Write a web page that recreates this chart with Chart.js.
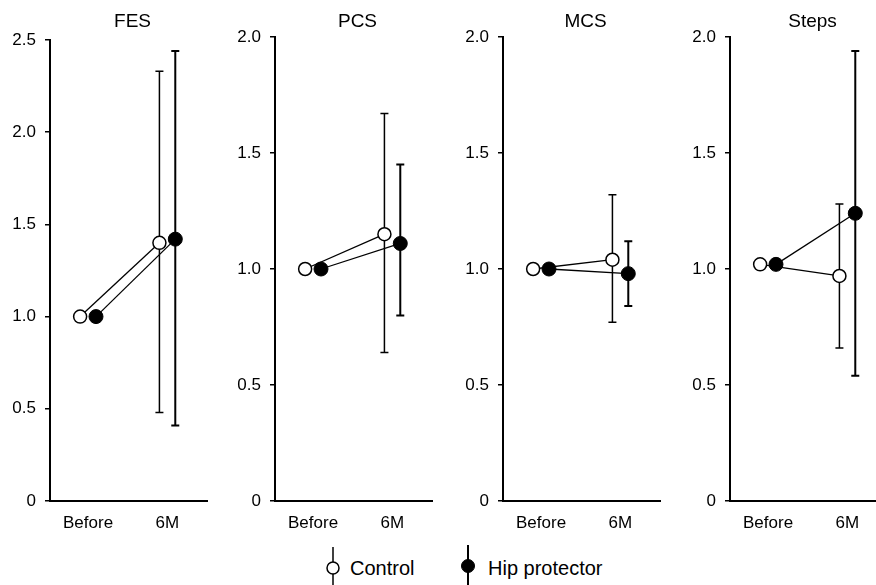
<!DOCTYPE html>
<html>
<head>
<meta charset="utf-8">
<script src="https://cdn.jsdelivr.net/npm/chart.js@4.4.1/dist/chart.umd.min.js"></script>
<style>
  html, body { margin: 0; padding: 0; background: #fff; overflow: hidden; }
  body { width: 876px; height: 585px; position: relative; font-family: "Liberation Sans", Arial, sans-serif; }
  canvas.panel { position: absolute; top: 0; }
  .legend { position: absolute; top: 0; left: 0; width: 876px; }
  .legend svg { position: absolute; }
  .legend span { position: absolute; top: 556px; font-size: 20px; line-height: 24px; color: #000; white-space: nowrap; }
</style>
</head>
<body>
<canvas class="panel" id="p0" width="215" height="541"></canvas>
<canvas class="panel" id="p1" width="215" height="541"></canvas>
<canvas class="panel" id="p2" width="215" height="541"></canvas>
<canvas class="panel" id="p3" width="215" height="541"></canvas>

<div class="legend">
  <svg style="left:325px;top:547px" width="16" height="40">
    <line x1="8" y1="0" x2="8" y2="40" stroke="#000" stroke-width="1.5"/>
    <circle cx="8" cy="21" r="6" fill="#fff" stroke="#000" stroke-width="1.5"/>
  </svg>
  <span style="left:350px">Control</span>
  <svg style="left:460px;top:545px" width="16" height="40">
    <line x1="8" y1="0" x2="8" y2="40" stroke="#000" stroke-width="2"/>
    <circle cx="8" cy="21" r="6.5" fill="#000" stroke="#000" stroke-width="1"/>
  </svg>
  <span style="left:488px">Hip protector</span>
</div>

<script>
// 패널과 시점
const panels = ['FES', 'PCS', 'MCS', 'Steps'];
const timepoints = ['Before', '6M'];

// 대조군 (평균, 오차 하한/상한)
const controlMean = [[1.00, 1.40], [1.00, 1.15], [1.00, 1.04], [1.02, 0.97]];
const controlLow  = [[null, 0.48], [null, 0.64], [null, 0.77], [null, 0.66]];
const controlHigh = [[null, 2.33], [null, 1.67], [null, 1.32], [null, 1.28]];

// 고관절 보호대군
const hipMean = [[1.00, 1.42], [1.00, 1.11], [1.00, 0.98], [1.02, 1.24]];
const hipLow  = [[null, 0.41], [null, 0.80], [null, 0.84], [null, 0.54]];
const hipHigh = [[null, 2.44], [null, 1.45], [null, 1.12], [null, 1.94]];

// y축 눈금
const yTicks = [
    [0, 0.5, 1.0, 1.5, 2.0, 2.5],
    [0, 0.5, 1.0, 1.5, 2.0],
    [0, 0.5, 1.0, 1.5, 2.0],
    [0, 0.5, 1.0, 1.5, 2.0]
];

// 패널 배치
const axisX = [50, 275, 503, 730];
const plotTop = [40, 37, 37, 37];
const dodge = 0.1;

const font = { family: '"Liberation Sans", Arial, sans-serif', size: 17 };

// 오차 막대
const errorBars = {
    id: 'errorBars',
    beforeDatasetsDraw(chart) {
        const { ctx } = chart;
        const y = chart.scales.y;
        chart.data.datasets.forEach((ds, di) => {
            const meta = chart.getDatasetMeta(di);
            meta.data.forEach((pt, j) => {
                const lo = ds.errLow[j], hi = ds.errHigh[j];
                if (lo == null) return;
                const yl = y.getPixelForValue(lo);
                const yh = y.getPixelForValue(hi);
                ctx.save();
                ctx.strokeStyle = '#000';
                ctx.lineWidth = ds.errWidth;
                ctx.beginPath();
                ctx.moveTo(pt.x, yl); ctx.lineTo(pt.x, yh);
                ctx.moveTo(pt.x - 4, yl); ctx.lineTo(pt.x + 4, yl);
                ctx.moveTo(pt.x - 4, yh); ctx.lineTo(pt.x + 4, yh);
                ctx.stroke();
                ctx.restore();
            });
        });
    }
};

// 패널 제목
const panelTitle = {
    id: 'panelTitle',
    afterDraw(chart, args, opts) {
        const { ctx, chartArea } = chart;
        ctx.save();
        ctx.fillStyle = '#000';
        ctx.font = '19px "Liberation Sans", Arial, sans-serif';
        ctx.textAlign = 'center';
        ctx.textBaseline = 'middle';
        ctx.fillText(opts.text, (chartArea.left + chartArea.right) / 2 + 4, 22);
        ctx.restore();
    }
};

panels.forEach((name, i) => {
    const canvas = document.getElementById('p' + i);
    canvas.style.left = (axisX[i] - 50) + 'px';

    new Chart(canvas, {
        type: 'line',
        data: {
            datasets: [
                {
                    label: 'Control',
                    data: controlMean[i].map((v, j) => ({ x: j + 1 - dodge, y: v })),
                    errLow: controlLow[i],
                    errHigh: controlHigh[i],
                    errWidth: 1.5,
                    borderColor: '#000',
                    borderWidth: 1.3,
                    pointRadius: 6.5,
                    pointBorderWidth: 1.5,
                    pointBorderColor: '#000',
                    pointBackgroundColor: '#fff'
                },
                {
                    label: 'Hip protector',
                    data: hipMean[i].map((v, j) => ({ x: j + 1 + dodge, y: v })),
                    errLow: hipLow[i],
                    errHigh: hipHigh[i],
                    errWidth: 2,
                    borderColor: '#000',
                    borderWidth: 1.3,
                    pointRadius: 7,
                    pointBorderWidth: 1,
                    pointBorderColor: '#000',
                    pointBackgroundColor: '#000'
                }
            ]
        },
        options: {
            responsive: false,
            animation: false,
            layout: { padding: { top: plotTop[i], right: 8, left: 0, bottom: 0 } },
            plugins: {
                legend: { display: false },
                tooltip: { enabled: false },
                panelTitle: { text: name }
            },
            scales: {
                x: {
                    type: 'linear',
                    min: 0.52,
                    max: 2.5,
                    afterBuildTicks: s => { s.ticks = timepoints.map((t, j) => ({ value: j + 1 })); },
                    afterFit: s => { s.height = 40; },
                    ticks: {
                        callback: v => timepoints[v - 1],
                        autoSkip: false,
                        maxRotation: 0,
                        padding: 12,
                        color: '#000',
                        font: font
                    },
                    grid: { display: false, drawTicks: false },
                    border: { color: '#000', width: 2 }
                },
                y: {
                    min: 0,
                    max: yTicks[i][yTicks[i].length - 1],
                    afterBuildTicks: s => { s.ticks = yTicks[i].map(v => ({ value: v })); },
                    afterFit: s => { s.width = 50; },
                    ticks: {
                        callback: v => v === 0 ? '0' : v.toFixed(1),
                        padding: 9,
                        color: '#000',
                        font: font
                    },
                    grid: { drawOnChartArea: false, tickLength: 5, color: '#000', lineWidth: 1.5 },
                    border: { color: '#000', width: 2 }
                }
            }
        },
        plugins: [errorBars, panelTitle]
    });
});
</script>
</body>
</html>
